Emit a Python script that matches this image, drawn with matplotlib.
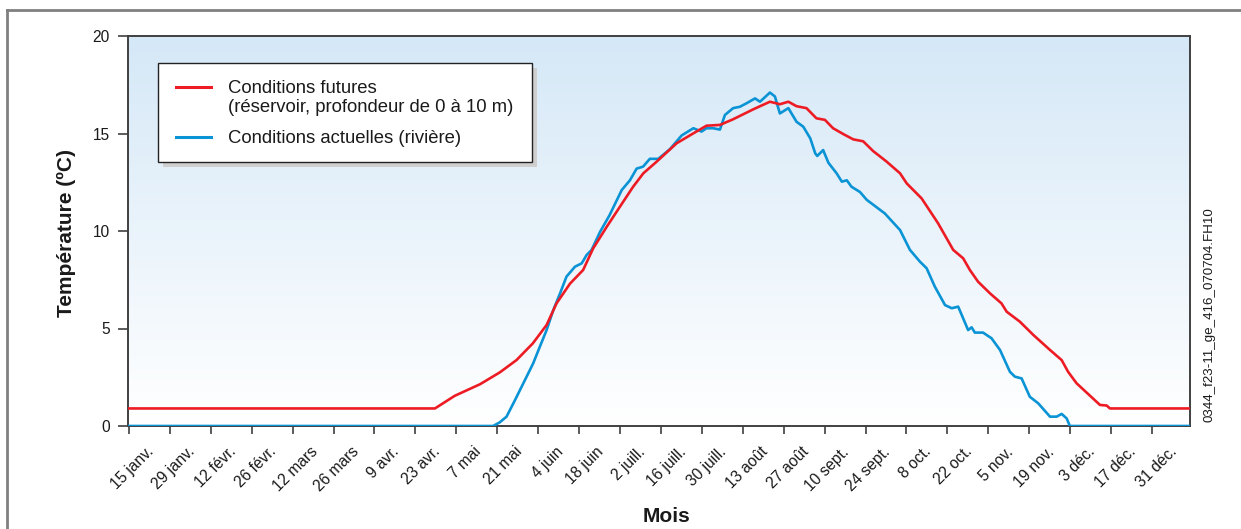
import numpy as np
import matplotlib.pyplot as plt
from matplotlib.lines import Line2D
from matplotlib.patches import Rectangle

plt.rcParams['font.family'] = ['Liberation Sans', 'DejaVu Sans']

# Day index (0 = first tick) and water temperature in degC
red_day = [0, 104.7, 111.5, 120.1, 126.9, 132.6, 138.2, 142.9, 146.3, 150.9,
           155.4, 158.8, 163.4, 168.0, 172.5, 176.0, 180.5, 187.4, 193.0, 197.6,
           202.2, 206.7, 213.6, 219.3, 222.7, 225.6, 228.4, 231.8, 235.2, 238.1,
           240.9, 244.4, 247.8, 251.2, 254.6, 259.2, 263.8, 266.1, 271.2, 276.8,
           282.0, 285.4, 287.7, 290.5, 294.6, 298.5, 300.3, 304.8, 309.4, 315.1,
           319.1, 321.3, 324.2, 332.2, 334.5, 335.6, 362.5]
red_temp = [0.9, 0.9, 1.55, 2.14, 2.75, 3.38, 4.24, 5.18, 6.29, 7.3,
            8.0, 9.1, 10.2, 11.25, 12.27, 12.96, 13.55, 14.5, 15.0, 15.4,
            15.44, 15.73, 16.24, 16.63, 16.5, 16.63, 16.4, 16.3, 15.78, 15.7,
            15.27, 14.97, 14.7, 14.6, 14.1, 13.56, 12.96, 12.44, 11.67, 10.4,
            9.03, 8.6, 8.0, 7.4, 6.8, 6.29, 5.86, 5.35, 4.67, 3.9,
            3.38, 2.78, 2.19, 1.08, 1.05, 0.9, 0.9]

blue_day = [0, 124.6, 126.9, 129.2, 132.1, 135.5, 138.3, 140.6, 142.9, 145.2,
            147.5, 149.7, 152.6, 154.9, 156.6, 158.3, 161.2, 164.4, 168.6, 171.4,
            173.7, 175.9, 178.2, 181.1, 185.1, 189.1, 193.1, 195.9, 197.6, 199.9,
            202.2, 203.9, 206.7, 209.0, 211.3, 214.2, 215.9, 219.3, 221.0, 222.7,
            225.6, 228.4, 230.7, 233.1, 234.8, 235.5, 237.5, 239.3, 242.1, 243.9,
            245.6, 247.2, 250.1, 252.4, 258.6, 263.8, 267.2, 270.6, 272.9, 275.7,
            279.2, 281.5, 283.7, 287.1, 288.3, 289.4, 292.2, 295.1, 298.0, 301.4,
            303.1, 305.4, 308.2, 311.1, 315.1, 317.4, 319.1, 320.8, 321.9, 362.5]
blue_temp = [0, 0, 0.19, 0.48, 1.33, 2.36, 3.21, 4.07, 4.92, 5.95,
             6.8, 7.66, 8.17, 8.34, 8.77, 9.03, 9.96, 10.8, 12.1, 12.6,
             13.2, 13.3, 13.7, 13.7, 14.2, 14.9, 15.27, 15.1, 15.27, 15.27,
             15.2, 15.95, 16.3, 16.37, 16.55, 16.8, 16.63, 17.1, 16.9, 16.03,
             16.3, 15.6, 15.35, 14.75, 13.98, 13.85, 14.15, 13.5, 12.96, 12.53,
             12.6, 12.27, 12.0, 11.6, 10.9, 10.05, 9.03, 8.43, 8.09, 7.15,
             6.2, 6.04, 6.12, 4.92, 5.06, 4.79, 4.79, 4.5, 3.9, 2.78,
             2.53, 2.44, 1.5, 1.16, 0.48, 0.48, 0.62, 0.39, 0, 0]

date_labels = ['15 janv.', '29 janv.', '12 févr.', '26 févr.', '12 mars', '26 mars',
               '9 avr.', '23 avr.', '7 mai', '21 mai', '4 juin', '18 juin',
               '2 juill.', '16 juill.', '30 juill.', '13 août', '27 août',
               '10 sept.', '24 sept.', '8 oct.', '22 oct.', '5 nov.', '19 nov.',
               '3 déc.', '17 déc.', '31 déc.']

label_future = ['Conditions futures', '(réservoir, profondeur de 0 à 10 m)']
label_current = 'Conditions actuelles (rivière)'

RED = '#ed1c24'
BLUE = '#0a93d5'
AXIS = '#404040'
TEXT = '#1a1a1a'

fig = plt.figure(figsize=(12.41, 5.29), dpi=100)
ax = fig.add_axes([128 / 1241, 1 - 426 / 529, 1062 / 1241, 390 / 529])

# light blue -> white vertical gradient behind the curves
grad = np.linspace(0, 1, 256).reshape(-1, 1)
top = np.array([213, 232, 247]) / 255
bottom = np.array([255, 255, 255]) / 255
img = top * (1 - grad[..., None]) + bottom * grad[..., None]
ax.imshow(img, extent=[0, 1, 0, 1], transform=ax.transAxes, aspect='auto', zorder=0)

ax.plot(blue_day, blue_temp, color=BLUE, lw=1.9, zorder=3, solid_joinstyle='round')
ax.plot(red_day, red_temp, color=RED, lw=1.9, zorder=4, solid_joinstyle='round')

ax.set_xlim(-0.3, 363)
ax.set_ylim(0, 20)

# tick marks every 14 days, labels shifted a bit to the right
ticks = np.arange(len(date_labels)) * 14
ax.set_xticks(ticks)
ax.set_xticklabels([''] * len(ticks))
ax.set_xticks(ticks + 9.5, minor=True)
ax.set_xticklabels(date_labels, minor=True, rotation=45, ha='right', va='top',
                   fontsize=11.2, color=TEXT)
ax.tick_params(axis='x', which='minor', length=0, pad=13)
ax.tick_params(axis='x', which='major', length=6, width=1.2, color=AXIS)

ax.set_yticks([0, 5, 10, 15, 20])
ax.tick_params(axis='y', length=7, width=1.2, color=AXIS, labelsize=11.2,
               labelcolor=TEXT, pad=6)

for s in ax.spines.values():
    s.set_color(AXIS)
    s.set_linewidth(1.4)

fig.text(66 / 1241, 1 - 233 / 529, 'Température (ºC)', rotation=90, fontsize=15,
         fontweight='bold', ha='center', va='center', color=TEXT)
fig.text(666 / 1241, 1 - 522 / 529, 'Mois', fontsize=15, fontweight='bold',
         ha='center', va='baseline', color=TEXT)
fig.text(1210 / 1241, 1 - 315 / 529, '0344_f23-11_ge_416_070704.FH10', rotation=90,
         fontsize=9.6, ha='center', va='center', color=TEXT)

# legend box with drop shadow
ax.add_patch(Rectangle((0.0329, 0.664), 0.3522, 0.255, transform=ax.transAxes,
                       facecolor='#cfcfcf', edgecolor='none', zorder=5))
ax.add_patch(Rectangle((0.0282, 0.677), 0.3522, 0.255, transform=ax.transAxes,
                       facecolor='white', edgecolor='#222222', lw=1.0, zorder=6))
ax.add_line(Line2D([0.0452, 0.0782], [0.870, 0.870], transform=ax.transAxes,
                   color=RED, lw=2.2, zorder=7))
ax.add_line(Line2D([0.0452, 0.0782], [0.740, 0.740], transform=ax.transAxes,
                   color=BLUE, lw=2.2, zorder=7))
ax.text(0.0939, 0.853, label_future[0], transform=ax.transAxes, fontsize=13.3,
        va='baseline', color=TEXT, zorder=7)
ax.text(0.0939, 0.806, label_future[1], transform=ax.transAxes, fontsize=13.3,
        va='baseline', color=TEXT, zorder=7)
ax.text(0.0939, 0.725, label_current, transform=ax.transAxes, fontsize=13.3,
        va='baseline', color=TEXT, zorder=7)

# outer frame (top and left edges)
fig.add_artist(Line2D([7 / 1241, 1], [1 - 10 / 529, 1 - 10 / 529],
                      transform=fig.transFigure, color='#808080', lw=2))
fig.add_artist(Line2D([7 / 1241, 7 / 1241], [0, 1 - 10 / 529],
                      transform=fig.transFigure, color='#808080', lw=2))

fig.savefig('out.png', dpi=100)
